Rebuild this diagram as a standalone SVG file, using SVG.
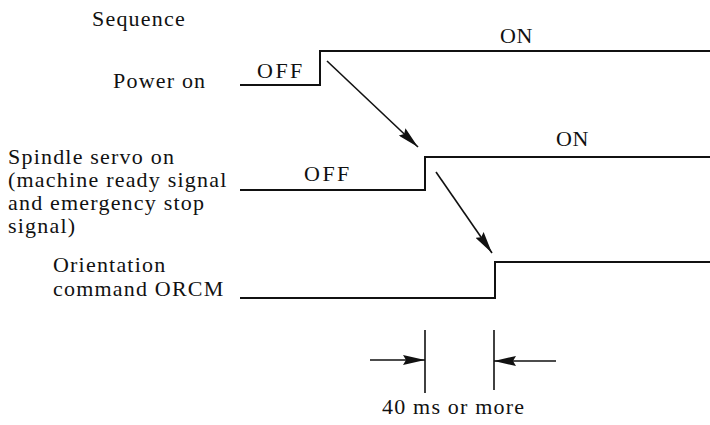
<svg xmlns="http://www.w3.org/2000/svg" width="710" height="425" viewBox="0 0 710 425">
<defs>
<style>
.t{font-family:"Liberation Serif","Times New Roman",serif;font-size:22px;fill:#111;letter-spacing:1.2px}
.s{fill:none;stroke:#111;stroke-width:2}
.a{fill:none;stroke:#111;stroke-width:1.6}
</style>
<marker id="ah" viewBox="0 0 22 10" refX="22" refY="5" markerWidth="22" markerHeight="10" markerUnits="userSpaceOnUse" orient="auto">
<path d="M0,0 L22,5 L0,10 L3,5 Z" fill="#111"/>
</marker>
</defs>
<rect width="710" height="425" fill="#fff"/>
<g id="title"><text class="t" x="92" y="26">Sequence</text></g>
<g id="power">
<text class="t" x="113" y="88">Power on</text>
<text class="t" x="257" y="78" style="letter-spacing:2.5px">OFF</text>
<text class="t" x="500" y="43" style="letter-spacing:0.5px">ON</text>
<path class="s" d="M240,85 H320 V51 H710"/>
</g>
<g id="spindle">
<text class="t" x="8" y="164">Spindle servo on</text>
<text class="t" x="8" y="187">(machine ready signal</text>
<text class="t" x="8" y="210">and emergency stop</text>
<text class="t" x="8" y="233">signal)</text>
<text class="t" x="304" y="181" style="letter-spacing:2.5px">OFF</text>
<text class="t" x="556" y="146" style="letter-spacing:0.5px">ON</text>
<path class="s" d="M240,190 H425 V157 H710"/>
</g>
<g id="orientation">
<text class="t" x="53" y="272">Orientation</text>
<text class="t" x="53" y="296">command ORCM</text>
<path class="s" d="M240,298 H495 V262 H710"/>
</g>
<g id="connectors">
<line class="a" x1="327" y1="61" x2="418" y2="147" marker-end="url(#ah)"/>
<line class="a" x1="436" y1="172" x2="492" y2="253" marker-end="url(#ah)"/>
<line class="a" x1="425" y1="330" x2="425" y2="393"/>
<line class="a" x1="494" y1="330" x2="494" y2="390"/>
<line class="a" x1="370" y1="360" x2="425" y2="360" marker-end="url(#ah)"/>
<line class="a" x1="556" y1="361" x2="494" y2="361" marker-end="url(#ah)"/>
</g>
<g id="dim"><text class="t" x="382" y="414">40 ms or more</text></g>
</svg>
